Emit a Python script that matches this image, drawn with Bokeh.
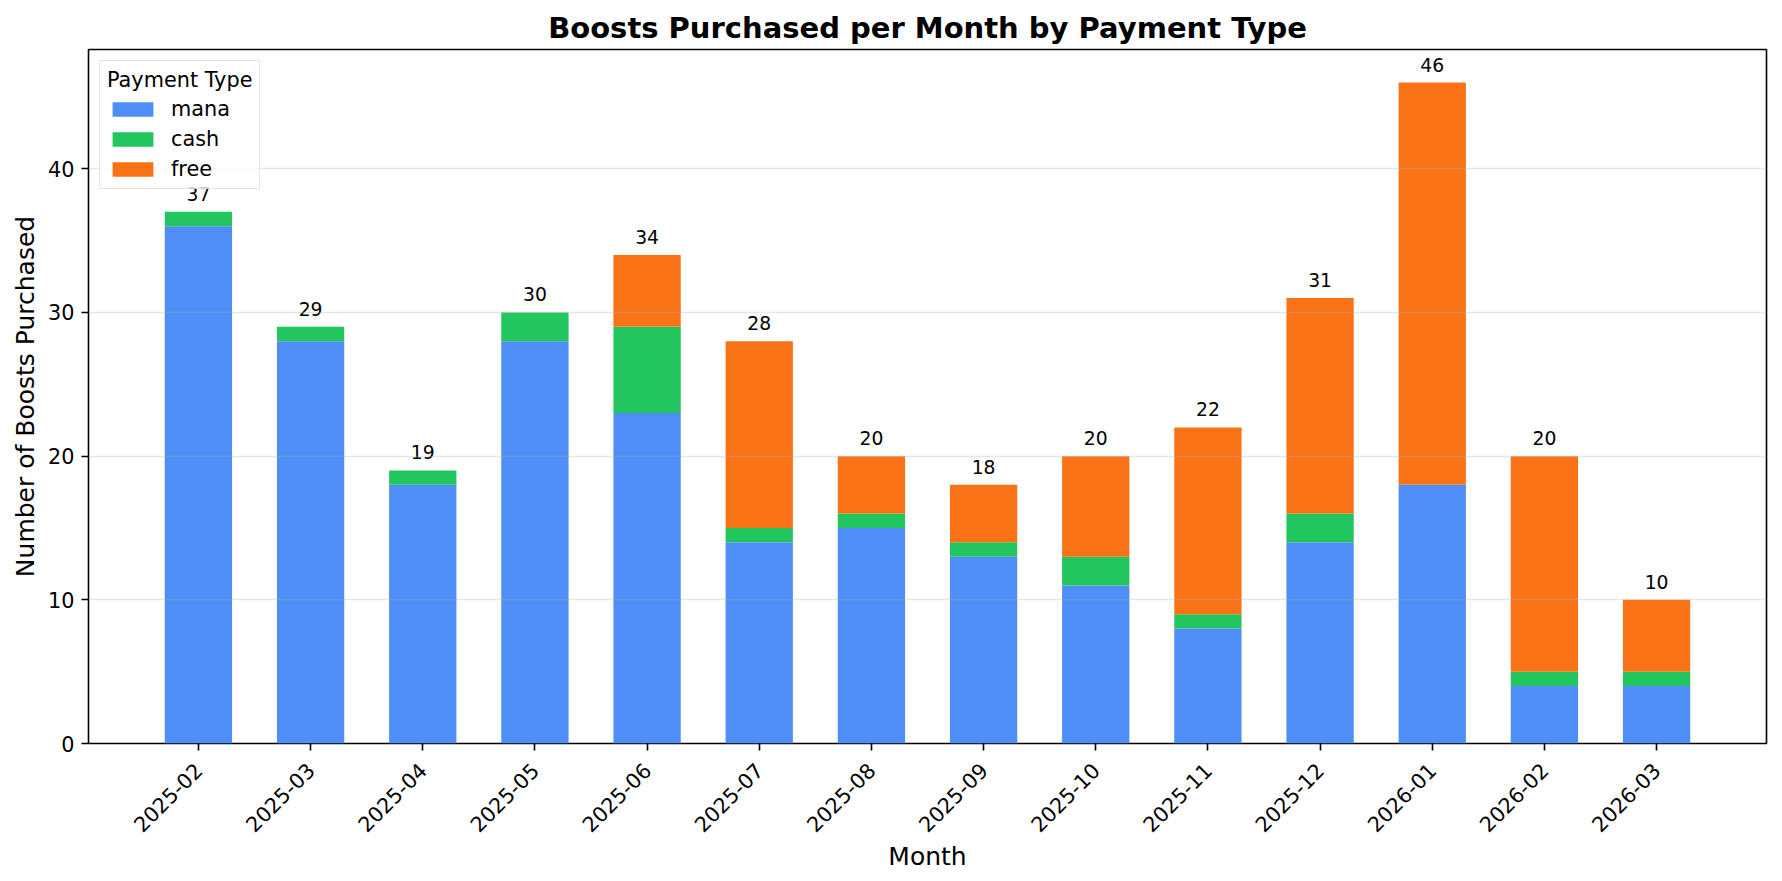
import math
from bokeh.plotting import figure
from bokeh.models import ColumnDataSource, Range1d, FixedTicker, Legend, LegendItem
from bokeh.core.properties import value
from bokeh.embed import file_html
from bokeh.resources import INLINE

months = ["2025-02", "2025-03", "2025-04", "2025-05", "2025-06", "2025-07", "2025-08",
          "2025-09", "2025-10", "2025-11", "2025-12", "2026-01", "2026-02", "2026-03"]
mana = [36, 28, 18, 28, 23, 14, 15, 13, 11, 8, 14, 18, 4, 4]
cash = [1, 1, 1, 2, 6, 1, 1, 1, 2, 1, 2, 0, 1, 1]
free = [0, 0, 0, 0, 5, 13, 4, 4, 7, 13, 15, 28, 15, 5]
series = ["mana", "cash", "free"]
colors = ["#4F8EF7", "#22C55E", "#F97316"]
y_ticks = [0, 10, 20, 30, 40]

FONT = "DejaVu Sans"
idx = list(range(len(months)))
totals = [a + b + c for a, b, c in zip(mana, cash, free)]

src = ColumnDataSource(dict(x=idx, mana=mana, cash=cash, free=free,
                            total=totals, label=[str(t) for t in totals]))

ymax = max(totals) * 1.05
p = figure(
    frame_width=1678, frame_height=694,
    min_border_left=88, min_border_right=14, min_border_top=49, min_border_bottom=128,
    x_range=Range1d(-0.98, len(months) - 1 + 0.98),
    y_range=Range1d(0, ymax),
    output_backend="svg", toolbar_location=None,
    title="Boosts Purchased per Month by Payment Type",
)
p.background_fill_color = "white"
p.border_fill_color = "white"
p.outline_line_color = "black"
p.outline_line_width = 1.6

p.title.text_font = FONT
p.title.text_font_size = "29px"
p.title.text_font_style = "bold"
p.title.align = "center"
p.title.text_color = "black"
p.title.standoff = 9

renderers = p.vbar_stack(series, x="x", width=0.6, source=src,
                         fill_color=colors, line_color=None)

p.text(x="x", y="total", text="label", source=src,
       text_font=value(FONT), text_font_size="18.75px", text_color="black",
       text_align="center", text_baseline="alphabetic", y_offset=-18)

# axes
for ax in (p.xaxis[0], p.yaxis[0]):
    ax.axis_line_color = None
    ax.major_tick_line_color = "black"
    ax.major_tick_line_width = 1.6
    ax.major_tick_out = 7
    ax.major_tick_in = 0
    ax.minor_tick_line_color = None
    ax.major_label_text_font = FONT
    ax.major_label_text_font_size = "20.8px"
    ax.major_label_text_color = "black"
    ax.axis_label_text_font = FONT
    ax.axis_label_text_font_size = "25px"
    ax.axis_label_text_font_style = "normal"
    ax.axis_label_text_color = "black"

p.xaxis.ticker = FixedTicker(ticks=idx)
p.xaxis.major_label_overrides = {i: m for i, m in zip(idx, months)}
p.xaxis.major_label_orientation = math.pi / 4
p.xaxis.major_label_standoff = 16
p.xaxis.axis_label = "Month"
p.xaxis.axis_label_standoff = 0

p.yaxis.ticker = FixedTicker(ticks=y_ticks)
p.yaxis.major_label_standoff = 7
p.yaxis.axis_label = "Number of Boosts Purchased"
p.yaxis.axis_label_standoff = 5

p.xgrid.grid_line_color = None
p.ygrid.ticker = FixedTicker(ticks=y_ticks)
p.ygrid.grid_line_color = "#b0b0b0"
p.ygrid.grid_line_alpha = 0.3
p.ygrid.grid_line_width = 1.6
p.ygrid.level = "overlay"

legend = Legend(
    items=[LegendItem(label=s, renderers=[r]) for s, r in zip(series, renderers)],
    title="Payment Type",
    location="top_left",
)
legend.margin = 11
legend.padding = 7
legend.spacing = 6
legend.glyph_width = 51
legend.glyph_height = 18
legend.label_height = 21
legend.label_standoff = 13
legend.label_text_font = FONT
legend.label_text_font_size = "20.8px"
legend.label_text_color = "black"
legend.title_text_font = FONT
legend.title_text_font_size = "20.8px"
legend.title_text_font_style = "normal"
legend.title_text_color = "black"
legend.title_standoff = 5
legend.border_line_color = "#cccccc"
legend.border_line_width = 1.5
legend.background_fill_alpha = 0.8
p.add_layout(legend)

open("out.html", "w").write(file_html(p, INLINE))
